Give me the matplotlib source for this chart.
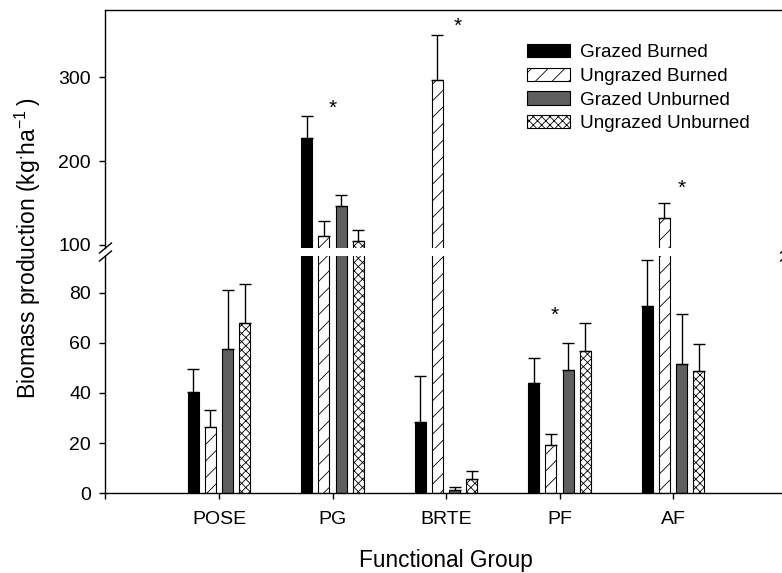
import numpy as np
import matplotlib
matplotlib.use('Agg')
import matplotlib.pyplot as plt
from matplotlib.lines import Line2D

plt.rcParams['font.family'] = ['Liberation Sans', 'DejaVu Sans']
plt.rcParams['mathtext.default'] = 'regular'
plt.rcParams['hatch.linewidth'] = 0.6

# data (kg/ha, mean and upper error)
groups = ['POSE', 'PG', 'BRTE', 'PF', 'AF']
treatments = ['Grazed Burned', 'Ungrazed Burned', 'Grazed Unburned', 'Ungrazed Unburned']

grazed_burned = [40.5, 227.7, 28.3, 43.9, 74.7]
grazed_burned_err = [9.1, 25.9, 18.6, 9.9, 18.3]
ungrazed_burned = [26.6, 110.7, 296.0, 19.1, 131.8]
ungrazed_burned_err = [6.6, 17.9, 54.4, 4.4, 18.6]
grazed_unburned = [57.7, 146.8, 1.4, 49.2, 51.4]
grazed_unburned_err = [23.4, 12.7, 1.0, 10.6, 20.1]
ungrazed_unburned = [67.8, 104.8, 5.7, 56.7, 48.8]
ungrazed_unburned_err = [15.8, 12.7, 3.1, 11.2, 10.6]

# significance markers
star_x = [2.0, 3.1, 3.96, 5.08]
star_y = [263, 360, 71, 168]

means = [grazed_burned, ungrazed_burned, grazed_unburned, ungrazed_unburned]
errs = [grazed_burned_err, ungrazed_burned_err, grazed_unburned_err, ungrazed_unburned_err]
fills = ['black', 'white', '#5f5f5f', 'white']
hatches = [None, '//', None, 'xxxx']

W, H = 782, 573
fig = plt.figure(figsize=(W / 100, H / 100), dpi=100)


def px_box(x0, y_top, x1, y_bot):
    # pixel box -> figure fraction rect
    return [x0 / W, 1 - y_bot / H, (x1 - x0) / W, (y_bot - y_top) / H]


ax_left, ax_right = 105.5, 105.5 + 6 * 113.5
ax_hi = fig.add_axes(px_box(ax_left, 10, ax_right, 248))
ax_lo = fig.add_axes(px_box(ax_left, 256, ax_right, 493.3))

x = np.arange(1, len(groups) + 1)
step = 0.15
width = 0.097

for ax in (ax_hi, ax_lo):
    for i in range(4):
        pos = x + (i - 1.5) * step
        ax.bar(pos, means[i], width, color=fills[i], edgecolor='black',
               linewidth=0.8, hatch=hatches[i], label=treatments[i],
               yerr=[np.zeros(len(x)), errs[i]],
               error_kw=dict(ecolor='black', elinewidth=1, capsize=4.5, capthick=1))
    ax.set_xlim(0, 6)
    ax.spines['right'].set_visible(False)
    ax.tick_params(direction='out', length=4.5, width=1, labelsize=14, pad=6)
    for s in ax.spines.values():
        s.set_linewidth(1)

ax_hi.set_ylim(96.4, 380)
ax_hi.set_yticks([100, 200, 300])
ax_hi.spines['bottom'].set_visible(False)
ax_hi.tick_params(axis='x', bottom=False, labelbottom=False)

ax_lo.set_ylim(0, 94.6)
ax_lo.set_yticks([0, 20, 40, 60, 80])
ax_lo.spines['top'].set_visible(False)
ax_lo.set_xticks(np.arange(0, 7))
ax_lo.set_xticklabels([''] + groups + [''])
ax_lo.tick_params(axis='x', pad=8)

# asterisks
for sx, sy in zip(star_x, star_y):
    ax = ax_hi if sy > 96.4 else ax_lo
    ax.text(sx, sy, '*', ha='center', va='center', fontsize=15)

# break marks on the y axis
for xb in (ax_left, ax_right):
    for yb in (248, 256):
        fig.add_artist(Line2D([(xb - 6) / W, (xb + 6) / W],
                              [1 - (yb + 5) / H, 1 - (yb - 5) / H],
                              color='black', linewidth=1))

ax_hi.legend(loc='upper left', bbox_to_anchor=(527 / W, 1 - 44 / H),
             bbox_transform=fig.transFigure, frameon=False, fontsize=13.6,
             handlelength=2.28, handleheight=0.7, handletextpad=0.55,
             labelspacing=0.34, borderpad=0, borderaxespad=0)

fig.text(28 / W, 1 - 248 / H, 'Biomass production (kg$^{\\cdot}$ha$^{-1}$\u2009)',
         rotation=90, ha='center', va='center', fontsize=16.5)
fig.text(446 / W, 1 - 561 / H, 'Functional Group', ha='center', va='center',
         fontsize=16.3)

fig.savefig('out.png', dpi=100)
